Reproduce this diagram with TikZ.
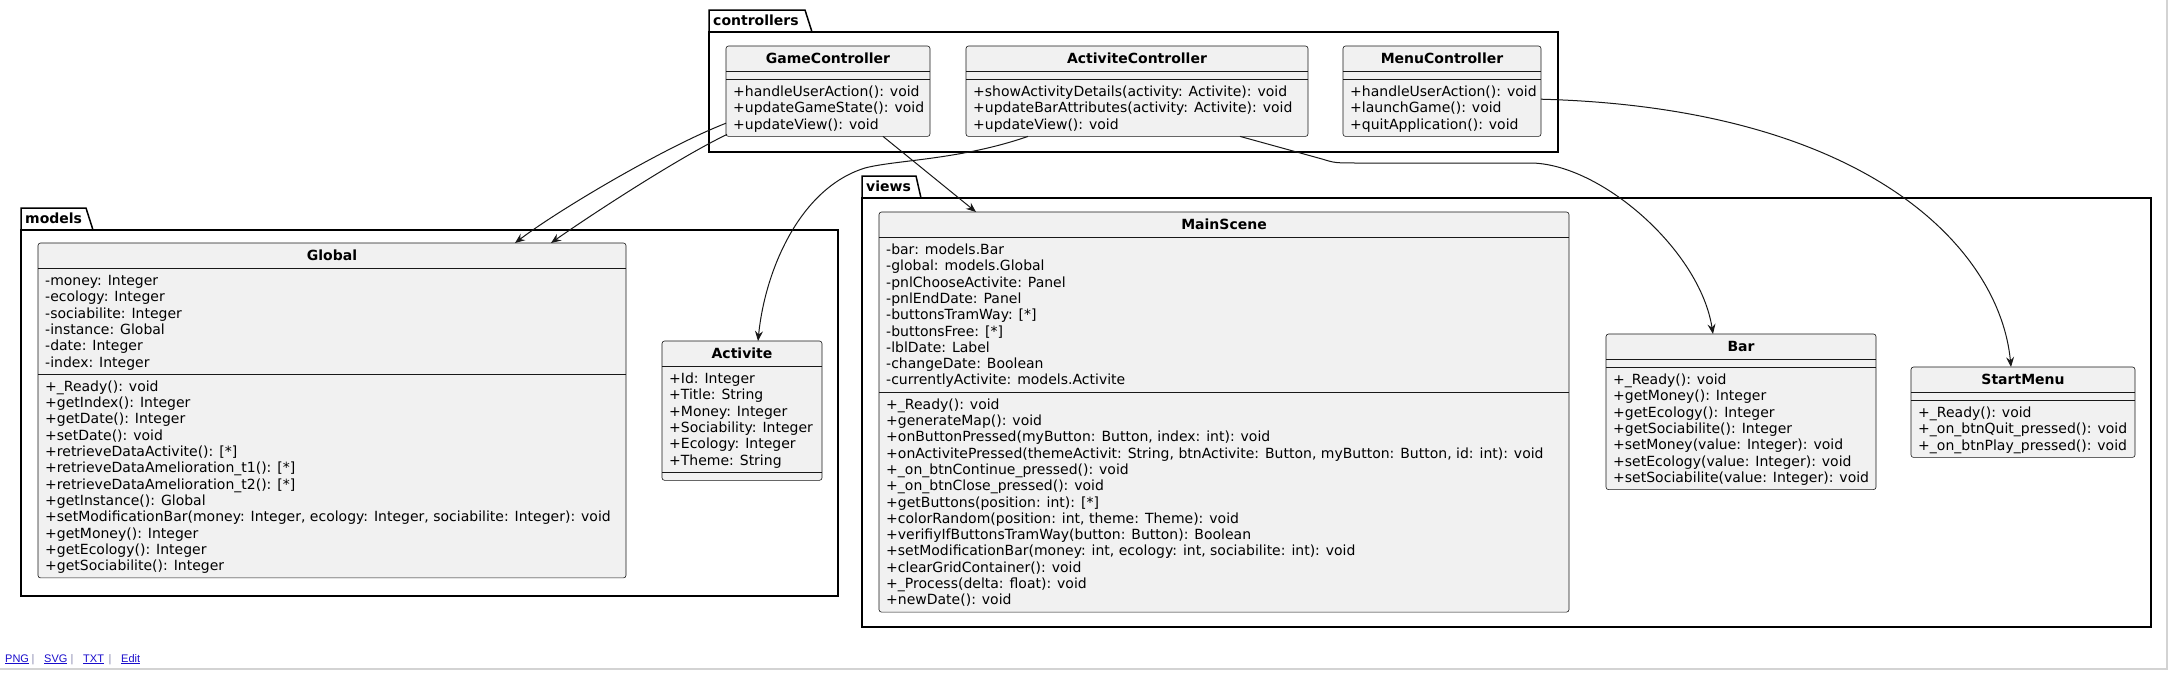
\documentclass[tikz,border=0pt]{standalone}
\usepackage{fontspec}
\setmainfont{DejaVu Sans}
\newfontfamily\footfont{Liberation Sans}
\usetikzlibrary{arrows.meta}
\definecolor{boxfill}{HTML}{F1F1F1}
\definecolor{boxline}{HTML}{181818}
\definecolor{linkblue}{HTML}{1A0DCC}
\definecolor{pageline}{HTML}{D3D3D3}
\definecolor{sepgray}{HTML}{8A8AB0}
\tikzset{
  classbox/.style={draw=boxline, line width=0.6pt, fill=boxfill, rounded corners=2.5pt, inner sep=0pt, outer sep=0pt},
  sepline/.style={draw=boxline, line width=0.6pt},
  rowtext/.style={anchor=base west, inner sep=0pt, font=\fontsize{14}{16.3}\selectfont},
  titletext/.style={anchor=base, inner sep=0pt, font=\fontsize{14}{16.3}\selectfont\bfseries},
  pkgbox/.style={draw=black, line width=1.5pt, inner sep=0pt, outer sep=0pt},
  pkgtab/.style={draw=black, line width=1.5pt, line join=miter},
  pkglabel/.style={anchor=base west, inner sep=0pt, font=\fontsize{14}{16.3}\selectfont\bfseries},
  dep/.style={draw=boxline, line width=1pt, -{Stealth[length=10pt,width=8pt,inset=3.5pt]}},
  footlink/.style={anchor=base west, inner sep=0pt, text=linkblue, font=\footfont\fontsize{11}{13}\selectfont},
  footsep/.style={anchor=base, inner sep=0pt, text=sepgray, font=\footfont\fontsize{11}{13}\selectfont},
}
% #1 name, #2 x, #3 y, #4 width, #5 title, #6 n attrs, #7 attrs, #8 n methods, #9 methods
\newcommand{\umlclass}[9]{%
  \pgfmathsetmacro{\umlya}{#3+25.5}%
  \pgfmathsetmacro{\umlym}{\umlya+#6*16.3+8}%
  \pgfmathsetmacro{\umlyb}{\umlym+#8*16.3+8}%
  \pgfmathsetmacro{\umlh}{\umlyb-#3}%
  \node[classbox, minimum width=#4pt, minimum height=\umlh pt, anchor=north west] (#1) at (#2,#3) {};
  \node[titletext] (#1-title) at ({#2+#4/2},{#3+17}) {#5};
  \draw[sepline] (#2,\umlya) -- ({#2+#4},\umlya);
  \draw[sepline] (#2,\umlym) -- ({#2+#4},\umlym);
  \ifnum#6>0
    \foreach \rowtxt [count=\rowidx from 0] in {#7} {\node[rowtext] (#1-a\rowidx) at ({#2+7},{\umlya+17+\rowidx*16.3}) {\rowtxt};}
  \fi
  \ifnum#8>0
    \foreach \rowtxt [count=\rowidx from 0] in {#9} {\node[rowtext] (#1-m\rowidx) at ({#2+7},{\umlym+17+\rowidx*16.3}) {\rowtxt};}
  \fi
}
\begin{document}
\begin{tikzpicture}[x=1pt,y=-1pt]
\useasboundingbox (0,0) rectangle (2173,672);
\fill[white] (0,0) rectangle (2173,672);
% page border lines of the screenshot
\draw[pageline, line width=1.5pt] (0,669) -- (2167,669) -- (2167,0);

% ---------- packages ----------
\node[pkgbox, minimum width=849pt, minimum height=120pt, anchor=north west] (ctrlpkg) at (709,32) {};
\draw[pkgtab] (709,32) -- (709,10) -- (805,10) -- (812,32);
\node[pkglabel] (ctrllab) at (713,25) {controllers};

\node[pkgbox, minimum width=817pt, minimum height=366pt, anchor=north west] (modpkg) at (21,230) {};
\draw[pkgtab] (21,230) -- (21,208) -- (86,208) -- (93,230);
\node[pkglabel] (modlab) at (25,223) {models};

\node[pkgbox, minimum width=1289pt, minimum height=429pt, anchor=north west] (viewpkg) at (862,198) {};
\draw[pkgtab] (862,198) -- (862,176) -- (916,176) -- (921,198);
\node[pkglabel] (viewlab) at (866,191) {views};

% ---------- classes ----------
\umlclass{gc}{726}{46}{204}{GameController}{0}{}{3}{{+handleUserAction(): void},{+updateGameState(): void},{+updateView(): void}}
\umlclass{ac}{966}{46}{342}{ActiviteController}{0}{}{3}{{+showActivityDetails(activity: Activite): void},{+updateBarAttributes(activity: Activite): void},{+updateView(): void}}
\umlclass{mc}{1343}{46}{198}{MenuController}{0}{}{3}{{+handleUserAction(): void},{+launchGame(): void},{+quitApplication(): void}}

\umlclass{glob}{38}{243}{588}{Global}{6}{{-money: Integer},{-ecology: Integer},{-sociabilite: Integer},{-instance: Global},{-date: Integer},{-index: Integer}}{12}{{+\_Ready(): void},{+getIndex(): Integer},{+getDate(): Integer},{+setDate(): void},{+retrieveDataActivite(): [*]},{+retrieveDataAmelioration\_t1(): [*]},{+retrieveDataAmelioration\_t2(): [*]},{+getInstance(): Global},{+setModificationBar(money: Integer, ecology: Integer, sociabilite: Integer): void},{+getMoney(): Integer},{+getEcology(): Integer},{+getSociabilite(): Integer}}
\umlclass{act}{662}{341}{160}{Activite}{6}{{+Id: Integer},{+Title: String},{+Money: Integer},{+Sociability: Integer},{+Ecology: Integer},{+Theme: String}}{0}{}

\umlclass{ms}{879}{212}{690}{MainScene}{9}{{-bar: models.Bar},{-global: models.Global},{-pnlChooseActivite: Panel},{-pnlEndDate: Panel},{-buttonsTramWay: [*]},{-buttonsFree: [*]},{-lblDate: Label},{-changeDate: Boolean},{-currentlyActivite: models.Activite}}{13}{{+\_Ready(): void},{+generateMap(): void},{+onButtonPressed(myButton: Button, index: int): void},{+onActivitePressed(themeActivit: String, btnActivite: Button, myButton: Button, id: int): void},{+\_on\_btnContinue\_pressed(): void},{+\_on\_btnClose\_pressed(): void},{+getButtons(position: int): [*]},{+colorRandom(position: int, theme: Theme): void},{+verifiyIfButtonsTramWay(button: Button): Boolean},{+setModificationBar(money: int, ecology: int, sociabilite: int): void},{+clearGridContainer(): void},{+\_Process(delta: float): void},{+newDate(): void}}
\umlclass{bar}{1606}{334}{270}{Bar}{0}{}{7}{{+\_Ready(): void},{+getMoney(): Integer},{+getEcology(): Integer},{+getSociabilite(): Integer},{+setMoney(value: Integer): void},{+setEcology(value: Integer): void},{+setSociabilite(value: Integer): void}}
\umlclass{sm}{1911}{367}{224}{StartMenu}{0}{}{3}{{+\_Ready(): void},{+\_on\_btnQuit\_pressed(): void},{+\_on\_btnPlay\_pressed(): void}}

% ---------- dependencies ----------
\draw[dep] ([yshift=-32pt]gc.west) .. controls (665,147) and (560,209) .. ([xshift=183pt]glob.north);
\draw[dep] ([xshift=1pt,yshift=2pt]gc.south west) .. controls (676,159) and (585,219) .. ([xshift=219pt]glob.north);
\draw[dep] ([xshift=55pt]gc.south) -- ([xshift=-248pt]ms.north);
\draw[dep] ([xshift=-109pt]ac.south) .. controls (960,160) and (895,160) .. (865,168) .. controls (800,188) and (765,270) .. ([xshift=16pt]act.north);
\draw[dep] ([xshift=103pt]ac.south) -- (1322,159) .. controls (1335,163) .. (1360,163) -- (1530,163) .. controls (1600,163) and (1700,250) .. ([xshift=-28pt]bar.north);
\draw[dep] ([yshift=-8pt]mc.east) .. controls (1870,108) and (2000,250) .. ([xshift=-12pt]sm.north);

% ---------- footer links ----------
\node[footlink] (fpng) at (5,662) {\underline{PNG}};
\node[footsep] (fs1) at (33,662) {|};
\node[footlink] (fsvg) at (44,662) {\underline{SVG}};
\node[footsep] (fs2) at (72,662) {|};
\node[footlink] (ftxt) at (83,662) {\underline{TXT}};
\node[footsep] (fs3) at (110,662) {|};
\node[footlink] (fedit) at (121,662) {\underline{Edit}};
\end{tikzpicture}
\end{document}
